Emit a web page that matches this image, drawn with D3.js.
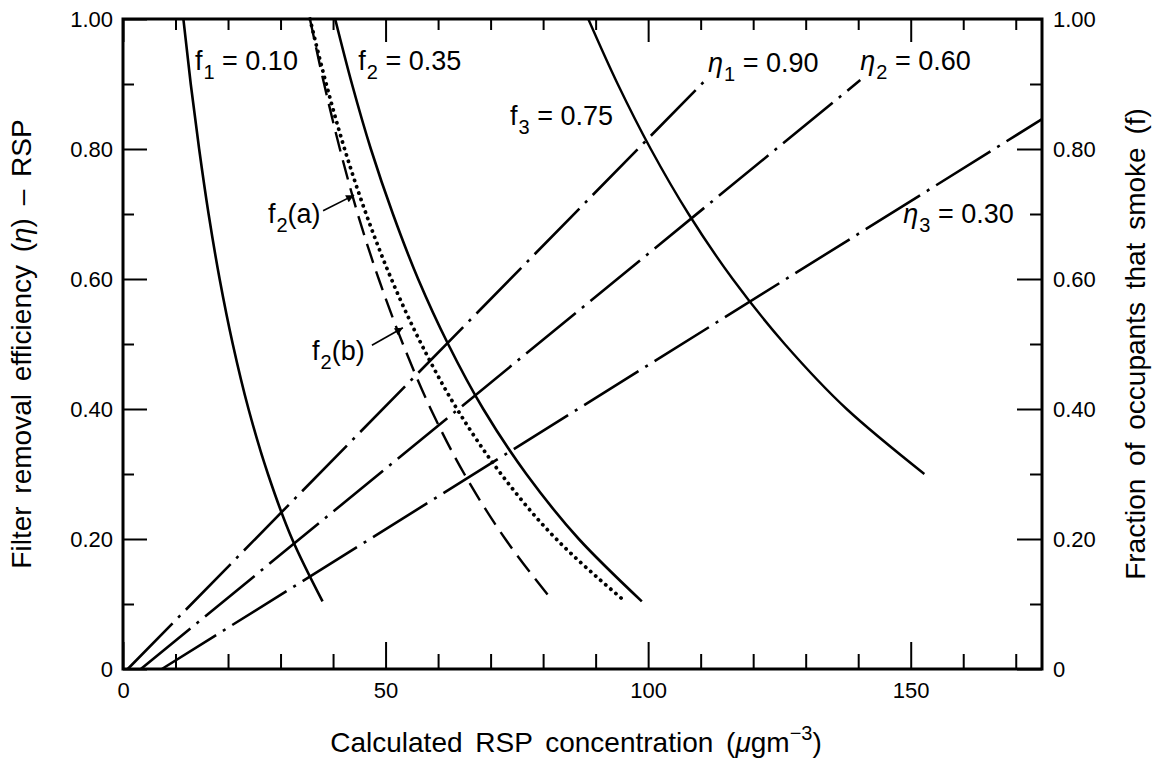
<!DOCTYPE html>
<html>
<head>
<meta charset="utf-8">
<script src="https://cdn.jsdelivr.net/npm/d3@7"></script>
<style>
  html, body { margin: 0; padding: 0; background: #fff; }
  svg { display: block; }
  text { font-family: "Liberation Sans", Arial, sans-serif; fill: #000; }
</style>
</head>
<body>
<svg id="chart" width="1164" height="764"></svg>
<script>
// ---------- data ----------
// x ticks (RSP concentration, µg m^-3)
const xMajorTicks = [0, 50, 100, 150];
const xMinorTicks = [10, 20, 30, 40, 60, 70, 80, 90, 110, 120, 130, 140, 160, 170];
const yMajorTicks = [0, 0.2, 0.4, 0.6, 0.8, 1.0];
const yMajorLabels = ["0", "0.20", "0.40", "0.60", "0.80", "1.00"];
const yMinorTicks = [0.1, 0.3, 0.5, 0.7, 0.9];

// curves of constant smoking fraction f (left axis: eta vs concentration)
const f1Eta  = [1.00, 0.90, 0.80, 0.70, 0.60, 0.50, 0.40, 0.30, 0.20, 0.104];
const f1Conc = [11.5, 12.9, 14.5, 16.3, 18.4, 20.9, 23.9, 27.6, 32.2, 38.0];

const f2Eta  = [1.00, 0.90, 0.80, 0.70, 0.60, 0.50, 0.40, 0.30, 0.20, 0.104];
const f2Conc = [40.4, 43.6, 47.2, 51.4, 56.2, 61.9, 68.6, 76.8, 86.8, 98.8];

const f2aEta  = [1.00, 0.90, 0.80, 0.70, 0.60, 0.50, 0.40, 0.30, 0.20, 0.104];
const f2aConc = [35.6, 38.3, 41.3, 44.7, 48.7, 53.3, 58.6, 65.0, 72.8, 81.9];

const f2bEta  = [1.00, 0.90, 0.80, 0.70, 0.60, 0.50, 0.40, 0.30, 0.20, 0.104];
const f2bConc = [35.6, 38.7, 42.2, 46.3, 51.1, 56.8, 63.6, 72.0, 82.5, 95.6];

const f3Eta  = [1.00, 0.90, 0.80, 0.70, 0.60, 0.50, 0.40, 0.30];
const f3Conc = [88.6, 94.2, 100.5, 107.7, 116.1, 126.0, 137.8, 152.6];

// lines of constant filter efficiency eta (right axis: f vs concentration)
const eta1Conc = [0.9, 111.4];   const eta1F = [0, 0.910];
const eta2Conc = [3.4, 140.4];   const eta2F = [0, 0.906];
const eta3Conc = [7.4, 175.0];   const eta3F = [0, 0.846];

// ---------- layout ----------
const svg = d3.select("#chart");
const L = 123, R = 1042, T = 19, B = 669;
const x = d3.scaleLinear().domain([0, 175]).range([L, R]);
const y = d3.scaleLinear().domain([0, 1]).range([B, T]);
const FONT_TICK = 22, FONT_ANN = 27, FONT_TITLE = 28;

// ---------- axes ----------
function styleAxis(g) {
  g.select(".domain").remove();
  g.selectAll(".tick line").attr("stroke", "#000").attr("stroke-width", 2);
  g.selectAll(".tick text").attr("font-size", FONT_TICK).attr("font-family", "Liberation Sans, Arial, sans-serif").attr("fill", "#000");
}
// bottom
svg.append("g").attr("transform", `translate(0,${B})`)
  .call(d3.axisBottom(x).tickValues(xMajorTicks).tickSize(-27).tickSizeOuter(0).tickPadding(12).tickFormat(d3.format("d")))
  .call(styleAxis)
  .call(g => g.selectAll(".tick text").attr("dy", "0.75em"));
svg.append("g").attr("transform", `translate(0,${B})`)
  .call(d3.axisBottom(x).tickValues(xMinorTicks).tickSize(-15).tickSizeOuter(0).tickFormat(""))
  .call(styleAxis);
// top
svg.append("g").attr("transform", `translate(0,${T})`)
  .call(d3.axisTop(x).tickValues(xMajorTicks).tickSize(-23).tickSizeOuter(0).tickFormat(""))
  .call(styleAxis);
svg.append("g").attr("transform", `translate(0,${T})`)
  .call(d3.axisTop(x).tickValues(xMinorTicks).tickSize(-11).tickSizeOuter(0).tickFormat(""))
  .call(styleAxis);
// left
svg.append("g").attr("transform", `translate(${L},0)`)
  .call(d3.axisLeft(y).tickValues(yMajorTicks).tickSize(-24).tickSizeOuter(0).tickPadding(10)
    .tickFormat((d, i) => yMajorLabels[i]))
  .call(styleAxis);
svg.append("g").attr("transform", `translate(${L},0)`)
  .call(d3.axisLeft(y).tickValues(yMinorTicks).tickSize(-11).tickSizeOuter(0).tickFormat(""))
  .call(styleAxis);
// right
svg.append("g").attr("transform", `translate(${R},0)`)
  .call(d3.axisRight(y).tickValues(yMajorTicks).tickSize(-25).tickSizeOuter(0).tickPadding(11)
    .tickFormat((d, i) => yMajorLabels[i]))
  .call(styleAxis);
svg.append("g").attr("transform", `translate(${R},0)`)
  .call(d3.axisRight(y).tickValues(yMinorTicks).tickSize(-12).tickSizeOuter(0).tickFormat(""))
  .call(styleAxis);

// frame
svg.append("rect").attr("x", L).attr("y", T).attr("width", R - L).attr("height", B - T)
  .attr("fill", "none").attr("stroke", "#000").attr("stroke-width", 3);

// ---------- curves ----------
const curveLine = d3.line().x(d => x(d[0])).y(d => y(d[1])).curve(d3.curveMonotoneY);
const zip = (cs, es) => cs.map((c, i) => [c, es[i]]);

function drawCurve(cs, es, dash, width, cap) {
  svg.append("path").datum(zip(cs, es))
    .attr("d", curveLine)
    .attr("fill", "none").attr("stroke", "#000")
    .attr("stroke-width", width)
    .attr("stroke-linecap", cap || "butt")
    .attr("stroke-dasharray", dash || null);
}
drawCurve(f1Conc, f1Eta, null, 2.6);
drawCurve(f2Conc, f2Eta, null, 2.6);
drawCurve(f3Conc, f3Eta, null, 2.4);
drawCurve(f2aConc, f2aEta, "20 9", 2.4);
drawCurve(f2bConc, f2bEta, "0.1 6.6", 3.8, "round");

const straight = d3.line().x(d => x(d[0])).y(d => y(d[1]));
function drawEtaLine(cs, fs) {
  svg.append("path").datum(zip(cs, fs))
    .attr("d", straight)
    .attr("fill", "none").attr("stroke", "#000").attr("stroke-width", 2.6)
    .attr("stroke-dasharray", "64 8 3 8");
}
drawEtaLine(eta1Conc, eta1F);
drawEtaLine(eta2Conc, eta2F);
drawEtaLine(eta3Conc, eta3F);

// ---------- annotations ----------
function label(c, e, sym, sub, rest, italic) {
  const t = svg.append("text").attr("x", x(c)).attr("y", y(e)).attr("font-size", FONT_ANN);
  t.append("tspan").text(sym).attr("font-style", italic ? "italic" : null);
  t.append("tspan").text(sub).attr("font-size", 20).attr("dy", 9).attr("dx", 1);
  t.append("tspan").text(rest).attr("dy", -9);
}
label(13.7, 0.9215, "f", "1", " = 0.10");
label(44.8, 0.9215, "f", "2", " = 0.35");
label(73.7, 0.837, "f", "3", " = 0.75");
label(111.4, 0.918, "η", "1", " = 0.90", true);
label(140.4, 0.9215, "η", "2", " = 0.60", true);
label(148.6, 0.686, "η", "3", " = 0.30", true);
label(27.6, 0.686, "f", "2", "(a)");
label(36.0, 0.475, "f", "2", "(b)");

// arrows
const defs = svg.append("defs");
defs.append("marker").attr("id", "arr").attr("viewBox", "0 0 10 10")
  .attr("refX", 10).attr("refY", 5).attr("markerWidth", 12).attr("markerHeight", 8)
  .attr("markerUnits", "userSpaceOnUse").attr("orient", "auto")
  .append("path").attr("d", "M0,0 L10,5 L0,10 Z").attr("fill", "#000");
const arrowA = [[38.1, 0.705], [44.0, 0.729]];
const arrowB = [[47.4, 0.498], [53.3, 0.525]];
[arrowA, arrowB].forEach(a => {
  svg.append("line")
    .attr("x1", x(a[0][0])).attr("y1", y(a[0][1]))
    .attr("x2", x(a[1][0])).attr("y2", y(a[1][1]))
    .attr("stroke", "#000").attr("stroke-width", 1.6).attr("marker-end", "url(#arr)");
});

// ---------- axis titles ----------
const xt = svg.append("text").attr("x", 576).attr("y", 752)
  .attr("text-anchor", "middle").attr("font-size", FONT_TITLE).attr("word-spacing", 5);
xt.append("tspan").text("Calculated RSP concentration (");
xt.append("tspan").text("μ").attr("font-style", "italic");
xt.append("tspan").text("gm");
xt.append("tspan").text("−3").attr("font-size", 20).attr("dy", -12);
xt.append("tspan").text(")").attr("dy", 12);

const yl = svg.append("text").attr("transform", `translate(31,${(T + B) / 2}) rotate(-90)`)
  .attr("text-anchor", "middle").attr("font-size", FONT_TITLE).attr("word-spacing", 5);
yl.append("tspan").text("Filter removal efficiency (");
yl.append("tspan").text("η").attr("font-style", "italic");
yl.append("tspan").text(") – RSP");

svg.append("text").attr("transform", `translate(1145,${(T + B) / 2}) rotate(-90)`)
  .attr("text-anchor", "middle").attr("font-size", FONT_TITLE).attr("word-spacing", 5)
  .text("Fraction of occupants that smoke (f)");
</script>
</body>
</html>
